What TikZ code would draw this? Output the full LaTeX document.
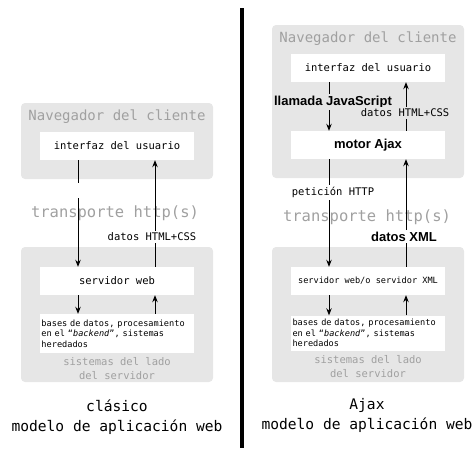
\documentclass[tikz,border=0pt]{standalone}
\usepackage{fontspec}
\setmonofont{DejaVu Sans Mono}
\newfontfamily\boldsans{Liberation Sans}
\usetikzlibrary{arrows.meta}
\definecolor{boxgray}{RGB}{230,230,230}
\definecolor{txtgray}{RGB}{160,160,160}

\begin{document}
\begin{tikzpicture}[x=1pt,y=-1pt,
	area/.style={fill=boxgray,rounded corners=4pt},
	panel/.style={fill=white,minimum width=154pt,minimum height=28pt,inner sep=0pt,font=\ttfamily\fontsize{10.5}{12}\selectfont},
	small/.style={font=\ttfamily\fontsize{8.6}{10.5}\selectfont},
	lbl/.style={inner sep=2pt,font=\ttfamily\fontsize{10.5}{12}\selectfont},
	boldlbl/.style={inner sep=2pt,font=\boldsans\bfseries\fontsize{13}{15}\selectfont},
	navtitle/.style={txtgray,inner sep=0pt,font=\ttfamily\fontsize{14}{16}\selectfont},
	big/.style={txtgray,inner sep=0pt,font=\ttfamily\fontsize{15.5}{18}\selectfont},
	side/.style={txtgray,inner sep=0pt,align=center,font=\ttfamily\fontsize{10.5}{14}\selectfont},
	captext/.style={inner sep=0pt,align=center,font=\ttfamily\fontsize{14.6}{20}\selectfont},
	arr/.style={-{Stealth[length=7pt,width=5.5pt]},line width=0.9pt},
	plainline/.style={line width=0.9pt}]
	\useasboundingbox (0,0) rectangle (475,455);
	
	% clasico
	\fill[area] (21,103) rectangle (213,179);
	\fill[area] (21,247) rectangle (213,382);
	\node[navtitle] (nav1) at (117,117) {Navegador del cliente};
	\node[panel] (ui1) at (117,146) {interfaz del usuario};
	\node[big] (http1) at (115,213) {transporte http(s)};
	\node[panel] (srv1) at (117,281) {servidor web};
	\node[panel,small,minimum height=39pt,text width=151pt,inner xsep=1.5pt,align=left] (back1) at (117,333.5)
		{bases de datos, procesamiento\\en el “\textit{backend}”, sistemas\\heredados};
	\node[side] (lado1) at (117,369) {sistemas del lado\\ del servidor};
	
	\draw[plainline] ([xshift=-39pt]ui1.south) -- ++(0,23);
	\draw[arr] ([xshift=-39pt]ui1.south) ++(0,38) -- ([xshift=-39pt]srv1.north);
	\draw[arr] ([xshift=38pt]srv1.north) -- node[lbl,fill=white,pos=0.28,xshift=-3pt]{datos HTML+CSS} ([xshift=38pt]ui1.south);
	\draw[arr] ([xshift=-39pt]srv1.south) -- ([xshift=-39pt]back1.north);
	\draw[arr] ([xshift=38pt]back1.north) -- ([xshift=38pt]srv1.south);
	
	\node[captext] (cap1) at (117,417) {cl\'asico\\modelo de aplicaci\'on web};
	
	% linea
	\draw[line width=4pt] (242,8) -- (242,448);
	
	% ajax
	\fill[area] (272,25) rectangle (464,178);
	\fill[area] (272,247) rectangle (464,382);
	\node[navtitle] (nav2) at (368,39) {Navegador del cliente};
	\node[panel] (ui2) at (368,68) {interfaz del usuario};
	\node[panel,font=\boldsans\bfseries\fontsize{13}{15}\selectfont] (motor) at (368,145) {motor Ajax};
	\node[big] (http2) at (367,217) {transporte http(s)};
	\node[panel,small] (srv2) at (368,281) {servidor web/o servidor XML};
	\node[panel,small,minimum height=35pt,text width=151pt,inner xsep=1.5pt,align=left] (back2) at (368,333)
		{bases de datos, procesamiento\\en el “\textit{backend}”, sistemas\\heredados};
	\node[side] (lado2) at (368,367) {sistemas del lado\\ del servidor};
	
	\draw[arr] ([xshift=-39pt]ui2.south) -- node[boldlbl,fill=boxgray,pos=0.41,xshift=4pt]{llamada JavaScript} ([xshift=-39pt]motor.north);
	\draw[arr] ([xshift=38pt]motor.north) -- node[lbl,fill=boxgray,pos=0.37,xshift=-1pt]{datos HTML+CSS} ([xshift=38pt]ui2.south);
	\draw[arr] ([xshift=-39pt]motor.south) -- node[lbl,fill=white,pos=0.31,xshift=4pt]{petici\'on HTTP} ([xshift=-39pt]srv2.north);
	\draw[arr] ([xshift=38pt]srv2.north) -- node[boldlbl,fill=white,pos=0.28,xshift=-2pt]{datos XML} ([xshift=38pt]motor.south);
	\draw[arr] ([xshift=-39pt]srv2.south) -- ([xshift=-39pt]back2.north);
	\draw[arr] ([xshift=38pt]back2.north) -- ([xshift=38pt]srv2.south);
	
	\node[captext] (cap2) at (367,415) {Ajax\\modelo de aplicaci\'on web};
\end{tikzpicture}
\end{document}
